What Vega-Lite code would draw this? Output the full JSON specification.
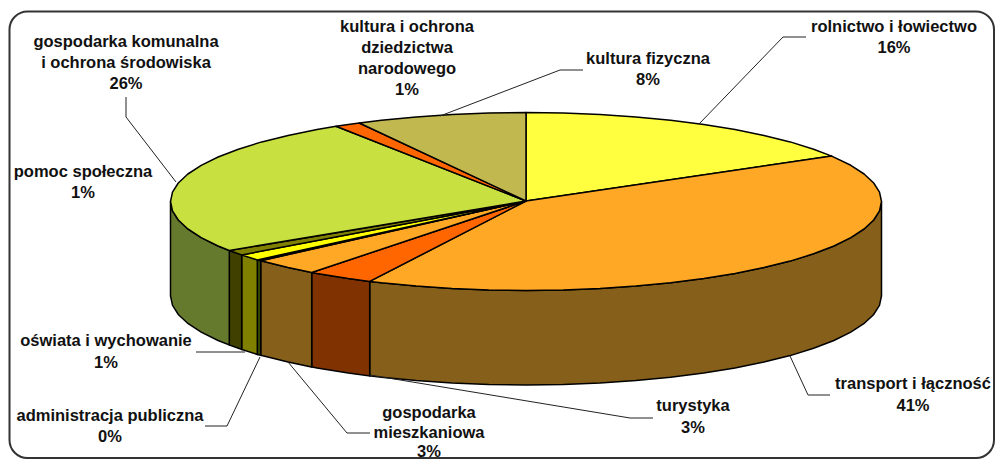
{
"$schema":"https://vega.github.io/schema/vega-lite/v6.json",
"width":995,"height":459,"padding":0,"autosize":{"type":"none"},
"background":"white","config":{"view":{"stroke":null}},
"datasets":{
"frame":[{"x":9.5,"x2":994,"y":11.5,"y2":458}],
"side":[
{"s":"transport","x":881.5,"y":201.5,"y2":296},{"s":"transport","x":879.5,"y":210.8,"y2":305.3},{"s":"transport","x":873.7,"y":220,"y2":314.5},{"s":"transport","x":864.1,"y":229,"y2":323.5},{"s":"transport","x":850.8,"y":237.7,"y2":332.2},{"s":"transport","x":833.9,"y":246,"y2":340.5},{"s":"transport","x":813.6,"y":253.8,"y2":348.3},{"s":"transport","x":790.2,"y":261.1,"y2":355.6},{"s":"transport","x":763.9,"y":267.6,"y2":362.1},{"s":"transport","x":735,"y":273.5,"y2":368},{"s":"transport","x":703.8,"y":278.6,"y2":373.1},{"s":"transport","x":670.6,"y":282.8,"y2":377.3},{"s":"transport","x":635.9,"y":286.1,"y2":380.6},{"s":"transport","x":599.9,"y":288.6,"y2":383.1},{"s":"transport","x":563.2,"y":290,"y2":384.5},{"s":"transport","x":526,"y":290.5,"y2":385},{"s":"transport","x":488.8,"y":290,"y2":384.5},{"s":"transport","x":452.1,"y":288.6,"y2":383.1},{"s":"transport","x":416.1,"y":286.1,"y2":380.6},{"s":"transport","x":381.4,"y":282.8,"y2":377.3},{"s":"transport","x":369.7,"y":281.4,"y2":375.9},
{"s":"turystyka","x":369.7,"y":281.4,"y2":375.9},{"s":"turystyka","x":348.2,"y":278.6,"y2":373.1},{"s":"turystyka","x":317,"y":273.5,"y2":368},{"s":"turystyka","x":311.7,"y":272.5,"y2":367},
{"s":"mieszkaniowa","x":311.7,"y":272.5,"y2":367},{"s":"mieszkaniowa","x":288.1,"y":267.6,"y2":362.1},{"s":"mieszkaniowa","x":261.8,"y":261.1,"y2":355.6},{"s":"mieszkaniowa","x":260.7,"y":260.7,"y2":355.2},
{"s":"administracja","x":260.7,"y":260.7,"y2":355.2},{"s":"administracja","x":257.3,"y":259.9,"y2":354.4},
{"s":"oswiata","x":257.3,"y":259.9,"y2":354.4},{"s":"oswiata","x":241.7,"y":254.9,"y2":349.4},
{"s":"pomoc","x":241.7,"y":254.9,"y2":349.4},{"s":"pomoc","x":229.3,"y":250.5,"y2":345},
{"s":"komunalna","x":229.3,"y":250.5,"y2":345},{"s":"komunalna","x":218.1,"y":246,"y2":340.5},{"s":"komunalna","x":201.2,"y":237.7,"y2":332.2},{"s":"komunalna","x":187.9,"y":229,"y2":323.5},{"s":"komunalna","x":178.3,"y":220,"y2":314.5},{"s":"komunalna","x":172.5,"y":210.8,"y2":305.3},{"s":"komunalna","x":170.5,"y":201.5,"y2":296}
],
"top":[
{"s":"rolnictwo","i":0,"x":526,"y":201},{"s":"rolnictwo","i":1,"x":526,"y":112.5},{"s":"rolnictwo","i":2,"x":563.2,"y":113},{"s":"rolnictwo","i":3,"x":599.9,"y":114.4},{"s":"rolnictwo","i":4,"x":635.9,"y":116.9},{"s":"rolnictwo","i":5,"x":670.6,"y":120.2},{"s":"rolnictwo","i":6,"x":703.8,"y":124.4},{"s":"rolnictwo","i":7,"x":735,"y":129.5},{"s":"rolnictwo","i":8,"x":763.9,"y":135.4},{"s":"rolnictwo","i":9,"x":790.2,"y":141.9},{"s":"rolnictwo","i":10,"x":813.6,"y":149.2},{"s":"rolnictwo","i":11,"x":831.7,"y":156.1},
{"s":"transport","i":0,"x":526,"y":201},{"s":"transport","i":1,"x":831.7,"y":156.1},{"s":"transport","i":2,"x":850.8,"y":165.3},{"s":"transport","i":3,"x":864.1,"y":174},{"s":"transport","i":4,"x":873.7,"y":183},{"s":"transport","i":5,"x":879.5,"y":192.2},{"s":"transport","i":6,"x":881.5,"y":201.5},{"s":"transport","i":7,"x":879.5,"y":210.8},{"s":"transport","i":8,"x":873.7,"y":220},{"s":"transport","i":9,"x":864.1,"y":229},{"s":"transport","i":10,"x":850.8,"y":237.7},{"s":"transport","i":11,"x":833.9,"y":246},{"s":"transport","i":12,"x":813.6,"y":253.8},{"s":"transport","i":13,"x":790.2,"y":261.1},{"s":"transport","i":14,"x":763.9,"y":267.6},{"s":"transport","i":15,"x":735,"y":273.5},{"s":"transport","i":16,"x":703.8,"y":278.6},{"s":"transport","i":17,"x":670.6,"y":282.8},{"s":"transport","i":18,"x":635.9,"y":286.1},{"s":"transport","i":19,"x":599.9,"y":288.6},{"s":"transport","i":20,"x":563.2,"y":290},{"s":"transport","i":21,"x":526,"y":290.5},{"s":"transport","i":22,"x":488.8,"y":290},{"s":"transport","i":23,"x":452.1,"y":288.6},{"s":"transport","i":24,"x":416.1,"y":286.1},{"s":"transport","i":25,"x":381.4,"y":282.8},{"s":"transport","i":26,"x":369.7,"y":281.4},
{"s":"turystyka","i":0,"x":526,"y":201},{"s":"turystyka","i":1,"x":369.7,"y":281.4},{"s":"turystyka","i":2,"x":348.2,"y":278.6},{"s":"turystyka","i":3,"x":317,"y":273.5},{"s":"turystyka","i":4,"x":311.7,"y":272.5},
{"s":"mieszkaniowa","i":0,"x":526,"y":201},{"s":"mieszkaniowa","i":1,"x":311.7,"y":272.5},{"s":"mieszkaniowa","i":2,"x":288.1,"y":267.6},{"s":"mieszkaniowa","i":3,"x":261.8,"y":261.1},{"s":"mieszkaniowa","i":4,"x":260.7,"y":260.7},
{"s":"administracja","i":0,"x":526,"y":201},{"s":"administracja","i":1,"x":260.7,"y":260.7},{"s":"administracja","i":2,"x":257.3,"y":259.9},
{"s":"oswiata","i":0,"x":526,"y":201},{"s":"oswiata","i":1,"x":257.3,"y":259.9},{"s":"oswiata","i":2,"x":241.7,"y":254.9},
{"s":"pomoc","i":0,"x":526,"y":201},{"s":"pomoc","i":1,"x":241.7,"y":254.9},{"s":"pomoc","i":2,"x":229.3,"y":250.5},
{"s":"komunalna","i":0,"x":526,"y":201},{"s":"komunalna","i":1,"x":229.3,"y":250.5},{"s":"komunalna","i":2,"x":218.1,"y":246},{"s":"komunalna","i":3,"x":201.2,"y":237.7},{"s":"komunalna","i":4,"x":187.9,"y":229},{"s":"komunalna","i":5,"x":178.3,"y":220},{"s":"komunalna","i":6,"x":172.5,"y":210.8},{"s":"komunalna","i":7,"x":170.5,"y":201.5},{"s":"komunalna","i":8,"x":172.5,"y":192.2},{"s":"komunalna","i":9,"x":178.3,"y":183},{"s":"komunalna","i":10,"x":187.9,"y":174},{"s":"komunalna","i":11,"x":201.2,"y":165.3},{"s":"komunalna","i":12,"x":218.1,"y":157},{"s":"komunalna","i":13,"x":238.4,"y":149.2},{"s":"komunalna","i":14,"x":261.8,"y":141.9},{"s":"komunalna","i":15,"x":288.1,"y":135.4},{"s":"komunalna","i":16,"x":317,"y":129.5},{"s":"komunalna","i":17,"x":336,"y":126.3},
{"s":"ochrona","i":0,"x":526,"y":201},{"s":"ochrona","i":1,"x":336,"y":126.3},{"s":"ochrona","i":2,"x":348.2,"y":124.4},{"s":"ochrona","i":3,"x":359.3,"y":123},
{"s":"fizyczna","i":0,"x":526,"y":201},{"s":"fizyczna","i":1,"x":359.3,"y":123},{"s":"fizyczna","i":2,"x":381.4,"y":120.2},{"s":"fizyczna","i":3,"x":416.1,"y":116.9},{"s":"fizyczna","i":4,"x":452.1,"y":114.4},{"s":"fizyczna","i":5,"x":488.8,"y":113},{"s":"fizyczna","i":6,"x":526,"y":112.5}
],
"leaders":[
{"l":"rolnictwo","i":0,"x":699,"y":124},{"l":"rolnictwo","i":1,"x":783,"y":37},{"l":"rolnictwo","i":2,"x":806,"y":37},
{"l":"fizyczna","i":0,"x":440,"y":116},{"l":"fizyczna","i":1,"x":560,"y":70},{"l":"fizyczna","i":2,"x":583,"y":70},
{"l":"komunalna","i":0,"x":176,"y":182},{"l":"komunalna","i":1,"x":126,"y":117},{"l":"komunalna","i":2,"x":126,"y":97},
{"l":"oswiata","i":0,"x":196,"y":352},{"l":"oswiata","i":1,"x":245,"y":352},
{"l":"administracja","i":0,"x":260,"y":357},{"l":"administracja","i":1,"x":227,"y":426},{"l":"administracja","i":2,"x":205,"y":426},
{"l":"mieszkaniowa","i":0,"x":288,"y":362},{"l":"mieszkaniowa","i":1,"x":347,"y":433},{"l":"mieszkaniowa","i":2,"x":370,"y":433},
{"l":"turystyka","i":0,"x":370,"y":375},{"l":"turystyka","i":1,"x":630,"y":418},{"l":"turystyka","i":2,"x":653,"y":418},
{"l":"transport","i":0,"x":790,"y":356},{"l":"transport","i":1,"x":808,"y":395},{"l":"transport","i":2,"x":830,"y":395}
],
"labels":[
{"t":"rolnictwo i łowiectwo","x":894,"y":27},{"t":"16%","x":894,"y":48},
{"t":"kultura fizyczna","x":648,"y":59},{"t":"8%","x":648,"y":80},
{"t":"kultura i ochrona","x":407,"y":27},{"t":"dziedzictwa","x":407,"y":48},{"t":"narodowego","x":407,"y":69},{"t":"1%","x":407,"y":90},
{"t":"gospodarka komunalna","x":126,"y":42},{"t":"i ochrona środowiska","x":126,"y":63},{"t":"26%","x":126,"y":84},
{"t":"pomoc społeczna","x":83,"y":172},{"t":"1%","x":83,"y":193},
{"t":"oświata i wychowanie","x":106,"y":341},{"t":"1%","x":106,"y":363},
{"t":"administracja publiczna","x":110,"y":416},{"t":"0%","x":110,"y":437},
{"t":"gospodarka","x":429,"y":413},{"t":"mieszkaniowa","x":429,"y":433},{"t":"3%","x":429,"y":452},
{"t":"turystyka","x":693,"y":406},{"t":"3%","x":693,"y":428},
{"t":"transport i łączność","x":913,"y":384},{"t":"41%","x":913,"y":406}
]
},
"resolve":{"scale":{"fill":"independent"}},
"layer":[
{"data":{"name":"frame"},"mark":{"type":"rect","cornerRadius":18,"fill":"white","stroke":"#333333","strokeWidth":2},
"encoding":{"x":{"field":"x","type":"quantitative","scale":{"domain":[0,995]},"axis":null},"x2":{"field":"x2"},"y":{"field":"y","type":"quantitative","scale":{"domain":[459,0]},"axis":null},"y2":{"field":"y2"}}},
{"data":{"name":"side"},"mark":{"type":"area","stroke":"black","strokeWidth":1.5,"fillOpacity":1},
"encoding":{"x":{"field":"x","type":"quantitative","scale":{"domain":[0,995]},"axis":null},"y":{"field":"y","type":"quantitative","scale":{"domain":[459,0]},"axis":null},"y2":{"field":"y2"},
"fill":{"field":"s","type":"nominal","legend":null,"scale":{"domain":["transport","turystyka","mieszkaniowa","administracja","oswiata","pomoc","komunalna"],"range":["#86601a","#803300","#86601a","#3a4a00","#808000","#404000","#667a2e"]}}}},
{"data":{"name":"top"},"mark":{"type":"line","interpolate":"linear-closed","stroke":"black","strokeWidth":1.5,"strokeJoin":"round"},
"encoding":{"x":{"field":"x","type":"quantitative","scale":{"domain":[0,995]},"axis":null},"y":{"field":"y","type":"quantitative","scale":{"domain":[459,0]},"axis":null},"order":{"field":"i","type":"quantitative"},
"fill":{"field":"s","type":"nominal","legend":null,"scale":{"domain":["rolnictwo","transport","turystyka","mieszkaniowa","administracja","oswiata","pomoc","komunalna","ochrona","fizyczna"],"range":["#ffff40","#ffa826","#ff6600","#ffa826","#3a4a00","#ffff00","#808000","#c8e040","#ff6600","#c2b850"]}}}},
{"data":{"name":"leaders"},"mark":{"type":"line","stroke":"#222222","strokeWidth":1},
"encoding":{"x":{"field":"x","type":"quantitative","scale":{"domain":[0,995]},"axis":null},"y":{"field":"y","type":"quantitative","scale":{"domain":[459,0]},"axis":null},"order":{"field":"i","type":"quantitative"},"detail":{"field":"l"}}},
{"data":{"name":"labels"},"mark":{"type":"text","font":"Liberation Sans","fontWeight":"bold","fontSize":16.5,"align":"center","baseline":"middle","fill":"#111111"},
"encoding":{"x":{"field":"x","type":"quantitative","scale":{"domain":[0,995]},"axis":null},"y":{"field":"y","type":"quantitative","scale":{"domain":[459,0]},"axis":null},"text":{"field":"t"}}}
]
}
